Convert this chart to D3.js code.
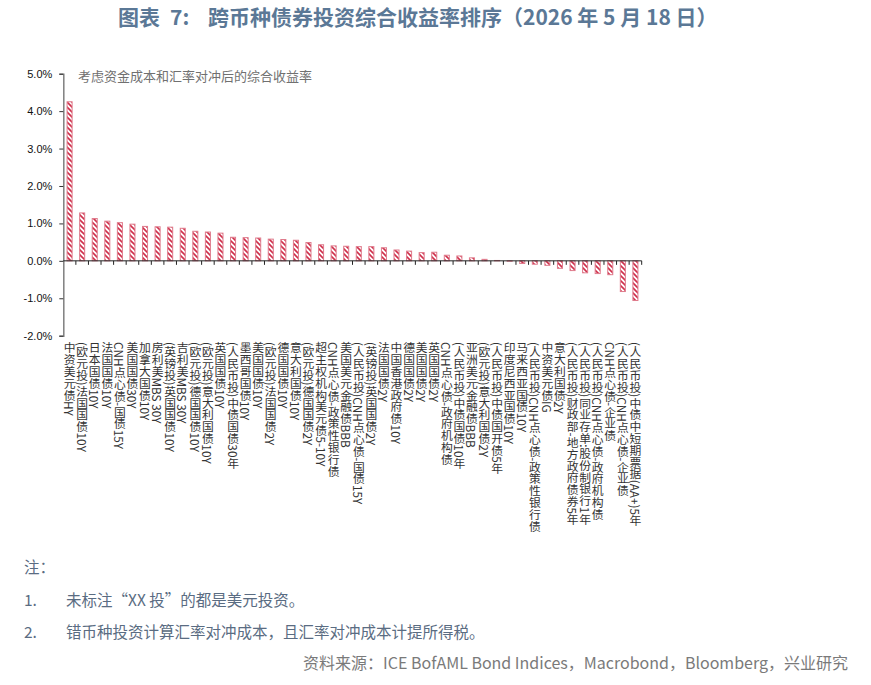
<!DOCTYPE html>
<html><head><meta charset="utf-8">
<script src="https://cdn.jsdelivr.net/npm/d3@7"></script>
<style>
html,body{margin:0;padding:0;background:#fff;}
svg{display:block;}
</style></head>
<body>
<svg id="c" width="871" height="685"></svg>
<script>
const categories = [
"中资美元债HY","(欧元投)法国国债10Y","日本国债10Y","法国国债10Y","CNH点心债-国债15Y",
"美国国债30Y","加拿大国债10Y","房利美MBS 30Y","(英镑投)英国国债10Y","吉利美MBS 30Y",
"(欧元投)德国国债10Y","(欧元投)意大利国债10Y","英国国债10Y","(人民币投)中债国债30年","墨西哥国债10Y",
"美国国债10Y","(欧元投)法国国债2Y","德国国债10Y","意大利国债10Y","(欧元投)德国国债2Y",
"超主权机构美元债5-10Y","CNH点心债-政策性银行债","美国美元金融债BBB","(人民币投)CNH点心债-国债15Y","(英镑投)英国国债2Y",
"法国国债2Y","中国香港政府债10Y","德国国债2Y","美国国债2Y","英国国债2Y",
"CNH点心债-政府机构债","(人民币投)中债国债10年","亚洲美元金融债BBB","(欧元投)意大利国债2Y","(人民币投)中债国开债5年",
"印度尼西亚国债10Y","马来西亚国债10Y","(人民币投)CNH点心债-政策性银行债","中资美元债IG","意大利国债2Y",
"(人民币投)财政部-地方政府债券5年","(人民币投)同业存单:股份制银行1年","(人民币投)CNH点心债-政府机构债","CNH点心债-企业债","(人民币投)CNH点心债-企业债",
"(人民币投)中债中短期票据(AA+)5年"
];
const values = [
4.25,1.28,1.13,1.06,1.02,
0.98,0.92,0.91,0.90,0.87,
0.79,0.77,0.74,0.63,0.62,
0.61,0.58,0.57,0.55,0.49,
0.43,0.40,0.39,0.38,0.38,
0.35,0.29,0.26,0.22,0.23,
0.15,0.13,0.08,0.04,0.01,
-0.01,-0.07,-0.09,-0.12,-0.20,
-0.26,-0.32,-0.34,-0.37,-0.82,
-1.06
];
const yTicks = [-2,-1,0,1,2,3,4,5];
const titleParts = ["图表","7:","跨币种债券投资综合收益率排序（2026 年 5 月 18 日）"];
const subtitle = "考虑资金成本和汇率对冲后的综合收益率";
const notes = ["注：","1.","未标注“XX 投”的都是美元投资。","2.","错币种投资计算汇率对冲成本，且汇率对冲成本计提所得税。"];
const source = "资料来源：ICE BofAML Bond Indices，Macrobond，Bloomberg，兴业研究";

(function(){
const svg = d3.select("#c");
const FONT = "'Noto Sans CJK SC','Noto Sans',sans-serif";
const pL = 63.3, pR = 641.7, pT = 73.7, pB = 335.7;

const x = d3.scaleBand().domain(categories).range([pL, pR]).paddingInner(0.6).paddingOuter(0.3);
const y = d3.scaleLinear().domain([-2, 5]).range([pB, pT]);

const defs = svg.append("defs");
const pat = defs.append("pattern").attr("id","hatch").attr("patternUnits","userSpaceOnUse")
  .attr("width",5).attr("height",5);
pat.append("rect").attr("width",5).attr("height",5).attr("fill","#fff");
pat.append("path").attr("d","M-1,-1 L6,6 M-1,4 L1,6 M4,-1 L6,1")
  .attr("stroke","#cf2f4b").attr("stroke-width",1.6);

const tx = [118,170,208];
titleParts.forEach((t,i)=>{
  svg.append("text").attr("x",tx[i]).attr("y",25).attr("font-family",FONT).attr("font-weight","bold")
    .attr("font-size",21).attr("fill","#5b7896").text(t);
});

svg.append("text").attr("x",78).attr("y",81).attr("font-family",FONT).attr("font-size",13)
  .attr("fill","#707070").text(subtitle);

svg.append("g").selectAll("rect").data(values).join("rect")
  .attr("x",(d,i)=>x(categories[i]))
  .attr("width",x.bandwidth())
  .attr("y",d=>y(Math.max(0,d)))
  .attr("height",d=>Math.abs(y(d)-y(0)))
  .attr("fill","url(#hatch)")
  .attr("stroke","#df7b8c").attr("stroke-width",1);

const ya = svg.append("g").attr("transform",`translate(${pL},0)`)
  .call(d3.axisLeft(y).tickValues(yTicks).tickFormat(d=>d.toFixed(1)+"%").tickSize(4).tickPadding(7));
ya.select(".domain").attr("stroke","#808080").attr("stroke-width",1.5);
ya.selectAll(".tick line").attr("stroke","#333");
ya.selectAll(".tick text").attr("font-family","'Liberation Sans',Arial,sans-serif").attr("font-size",11).attr("fill","#111");

const zy = y(0);
svg.append("line").attr("x1",pL).attr("x2",pR).attr("y1",zy).attr("y2",zy).attr("stroke","#222").attr("stroke-width",1);
const step = x.step();
const bounds = categories.map(c => x(c) - step*x.paddingInner()/2);
bounds.push(pR);
svg.append("g").selectAll("line").data(bounds.slice(1)).join("line")
  .attr("x1",d=>d).attr("x2",d=>d).attr("y1",zy).attr("y2",zy+4).attr("stroke","#222");

svg.append("g").selectAll("text").data(categories).join("text")
  .attr("x",d=>x(d)+x.bandwidth()/2)
  .attr("y",342)
  .style("writing-mode","vertical-rl")
  .attr("font-family",FONT).attr("font-size",11.8).attr("fill","#333")
  .text(d=>d);

const nc = "#5a6c82";
const fs = 15.5;
svg.append("text").attr("x",24).attr("y",573).attr("font-family",FONT).attr("font-size",fs).attr("fill",nc).text(notes[0]);
svg.append("text").attr("x",24).attr("y",606).attr("font-family",FONT).attr("font-size",fs).attr("fill",nc).text(notes[1]);
svg.append("text").attr("x",66).attr("y",606).attr("font-family",FONT).attr("font-size",fs).attr("fill",nc).text(notes[2]);
svg.append("text").attr("x",24).attr("y",638).attr("font-family",FONT).attr("font-size",fs).attr("fill",nc).text(notes[3]);
svg.append("text").attr("x",66).attr("y",638).attr("font-family",FONT).attr("font-size",fs).attr("fill",nc).text(notes[4]);
svg.append("text").attr("x",848).attr("y",669).attr("text-anchor","end").attr("font-family",FONT).attr("font-size",16).attr("fill","#7a7a7a").text(source);
})();
</script>
</body></html>
